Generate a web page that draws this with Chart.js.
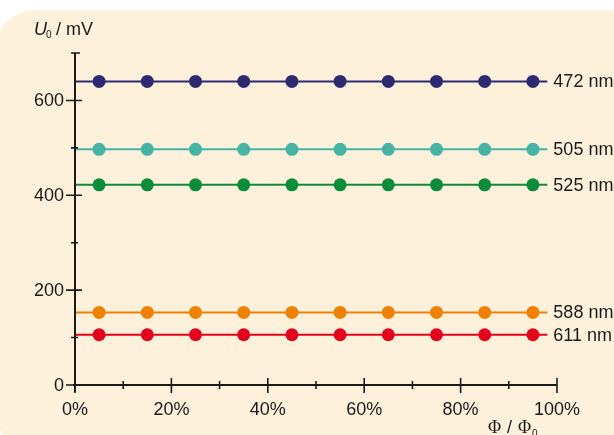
<!DOCTYPE html>
<html>
<head>
<meta charset="utf-8">
<script src="https://cdn.jsdelivr.net/npm/chart.js@4"></script>
<style>
  html, body { margin: 0; padding: 0; background: #fff; }
  #wrap { width: 614px; height: 435px; }
</style>
</head>
<body>
<div id="wrap"><canvas id="myChart" width="614" height="435"></canvas></div>
<script>
// relative flux (%), one measurement every 10 %
const flux = [5, 15, 25, 35, 45, 55, 65, 75, 85, 95];
const wavelengths = ['472 nm', '505 nm', '525 nm', '588 nm', '611 nm'];
const u472 = [640, 640, 640, 640, 640, 640, 640, 640, 640, 640];
const u505 = [497, 497, 497, 497, 497, 497, 497, 497, 497, 497];
const u525 = [422, 422, 422, 422, 422, 422, 422, 422, 422, 422];
const u588 = [153, 153, 153, 153, 153, 153, 153, 153, 153, 153];
const u611 = [106, 106, 106, 106, 106, 106, 106, 106, 106, 106];
const colors = ['#2e2a72', '#45b4a4', '#0b8c3c', '#f08000', '#e3001b'];
const lineRange = [0, 98];
const xTicks = [0, 20, 40, 60, 80, 100];
const xMinor = [10, 30, 50, 70, 90];
const yTicks = [0, 200, 400, 600];
const yMinor = [100, 300, 500, 700];

const series = [u472, u505, u525, u588, u611];
const datasets = [];
series.forEach((vals, i) => {
  // the fitted line, running from the axis to just past the last point
  datasets.push({
    label: wavelengths[i] + ' line',
    data: lineRange.map(x => ({ x: x, y: vals[0] })),
    borderColor: colors[i],
    borderWidth: 2,
    pointRadius: 0,
    clip: false
  });
  datasets.push({
    label: wavelengths[i],
    data: flux.map((x, j) => ({ x: x, y: vals[j] })),
    showLine: false,
    pointRadius: 6.5,
    pointBackgroundColor: colors[i],
    pointBorderWidth: 0,
    clip: false
  });
});

const font = '18px "Liberation Sans", Arial, sans-serif';
const serif = '18px "Liberation Serif", "Times New Roman", serif';
const small = '10px "Liberation Sans", Arial, sans-serif';

const panel = {
  id: 'panel',
  beforeDraw(chart) {
    const ctx = chart.ctx;
    ctx.save();
    ctx.fillStyle = '#fdf1dc';
    ctx.beginPath();
    ctx.roundRect(-6, 10, 700, 440, 42);
    ctx.fill();
    ctx.restore();
  }
};

const axes = {
  id: 'axes',
  afterDatasetsDraw(chart) {
    const ctx = chart.ctx;
    const xs = chart.scales.x, ys = chart.scales.y;
    const x0 = xs.getPixelForValue(0), y0 = ys.getPixelForValue(0);
    ctx.save();
    ctx.strokeStyle = '#1a1a1a';
    ctx.fillStyle = '#1a1a1a';
    ctx.lineWidth = 2;
    ctx.beginPath();
    ctx.moveTo(x0, y0 + 7);
    ctx.lineTo(x0, ys.getPixelForValue(700));
    ctx.moveTo(x0 - 2, y0);
    ctx.lineTo(xs.getPixelForValue(100), y0);
    ctx.stroke();
    ctx.lineWidth = 1.6;
    ctx.beginPath();
    yTicks.forEach(v => {
      const y = ys.getPixelForValue(v);
      ctx.moveTo(x0 - 9, y); ctx.lineTo(x0 + 7, y);
    });
    yMinor.forEach(v => {
      const y = ys.getPixelForValue(v);
      ctx.moveTo(x0 - 4, y); ctx.lineTo(x0 + (v === 700 ? 5 : 3), y);
    });
    xTicks.forEach(v => {
      const x = xs.getPixelForValue(v);
      ctx.moveTo(x, y0 - 7); ctx.lineTo(x, y0 + 8);
    });
    xMinor.forEach(v => {
      const x = xs.getPixelForValue(v);
      ctx.moveTo(x, y0 - 4); ctx.lineTo(x, y0 + 4);
    });
    ctx.stroke();

    ctx.font = font;
    ctx.textBaseline = 'middle';
    ctx.textAlign = 'right';
    yTicks.forEach(v => ctx.fillText(String(v), x0 - 11, ys.getPixelForValue(v) + 1));
    ctx.textAlign = 'center';
    xTicks.forEach(v => ctx.fillText(v + '%', xs.getPixelForValue(v), y0 + 25));

    // series labels at the line ends
    ctx.textAlign = 'left';
    series.forEach((vals, i) => {
      const y = ys.getPixelForValue(vals[0]);
      const xe = xs.getPixelForValue(lineRange[1]);
      ctx.fillText(wavelengths[i], xe + 6, y + 1);
    });

    // axis titles
    ctx.font = 'italic ' + font;
    ctx.fillText('U', 34, 30);
    ctx.font = small;
    ctx.fillText('0', 46, 35);
    ctx.font = font;
    ctx.fillText(' / mV', 51, 30);

    ctx.font = serif;
    ctx.fillText('\u03A6', 488, 428);
    ctx.font = font;
    ctx.fillText('/', 507, 428);
    ctx.font = serif;
    ctx.fillText('\u03A6', 518, 428);
    ctx.font = small;
    ctx.fillText('0', 532, 434);
    ctx.restore();
  }
};

const config = {
  type: 'line',
  data: { datasets: datasets },
  options: {
    responsive: false,
    animation: false,
    layout: { padding: { left: 75, right: 57, top: 53, bottom: 50 } },
    plugins: { legend: { display: false }, tooltip: { enabled: false } },
    scales: {
      x: { type: 'linear', min: 0, max: 100, display: false },
      y: { type: 'linear', min: 0, max: 700, display: false }
    }
  },
  plugins: [panel, axes]
};
const myChart = new Chart(document.getElementById('myChart'), config);
</script>
</body>
</html>
